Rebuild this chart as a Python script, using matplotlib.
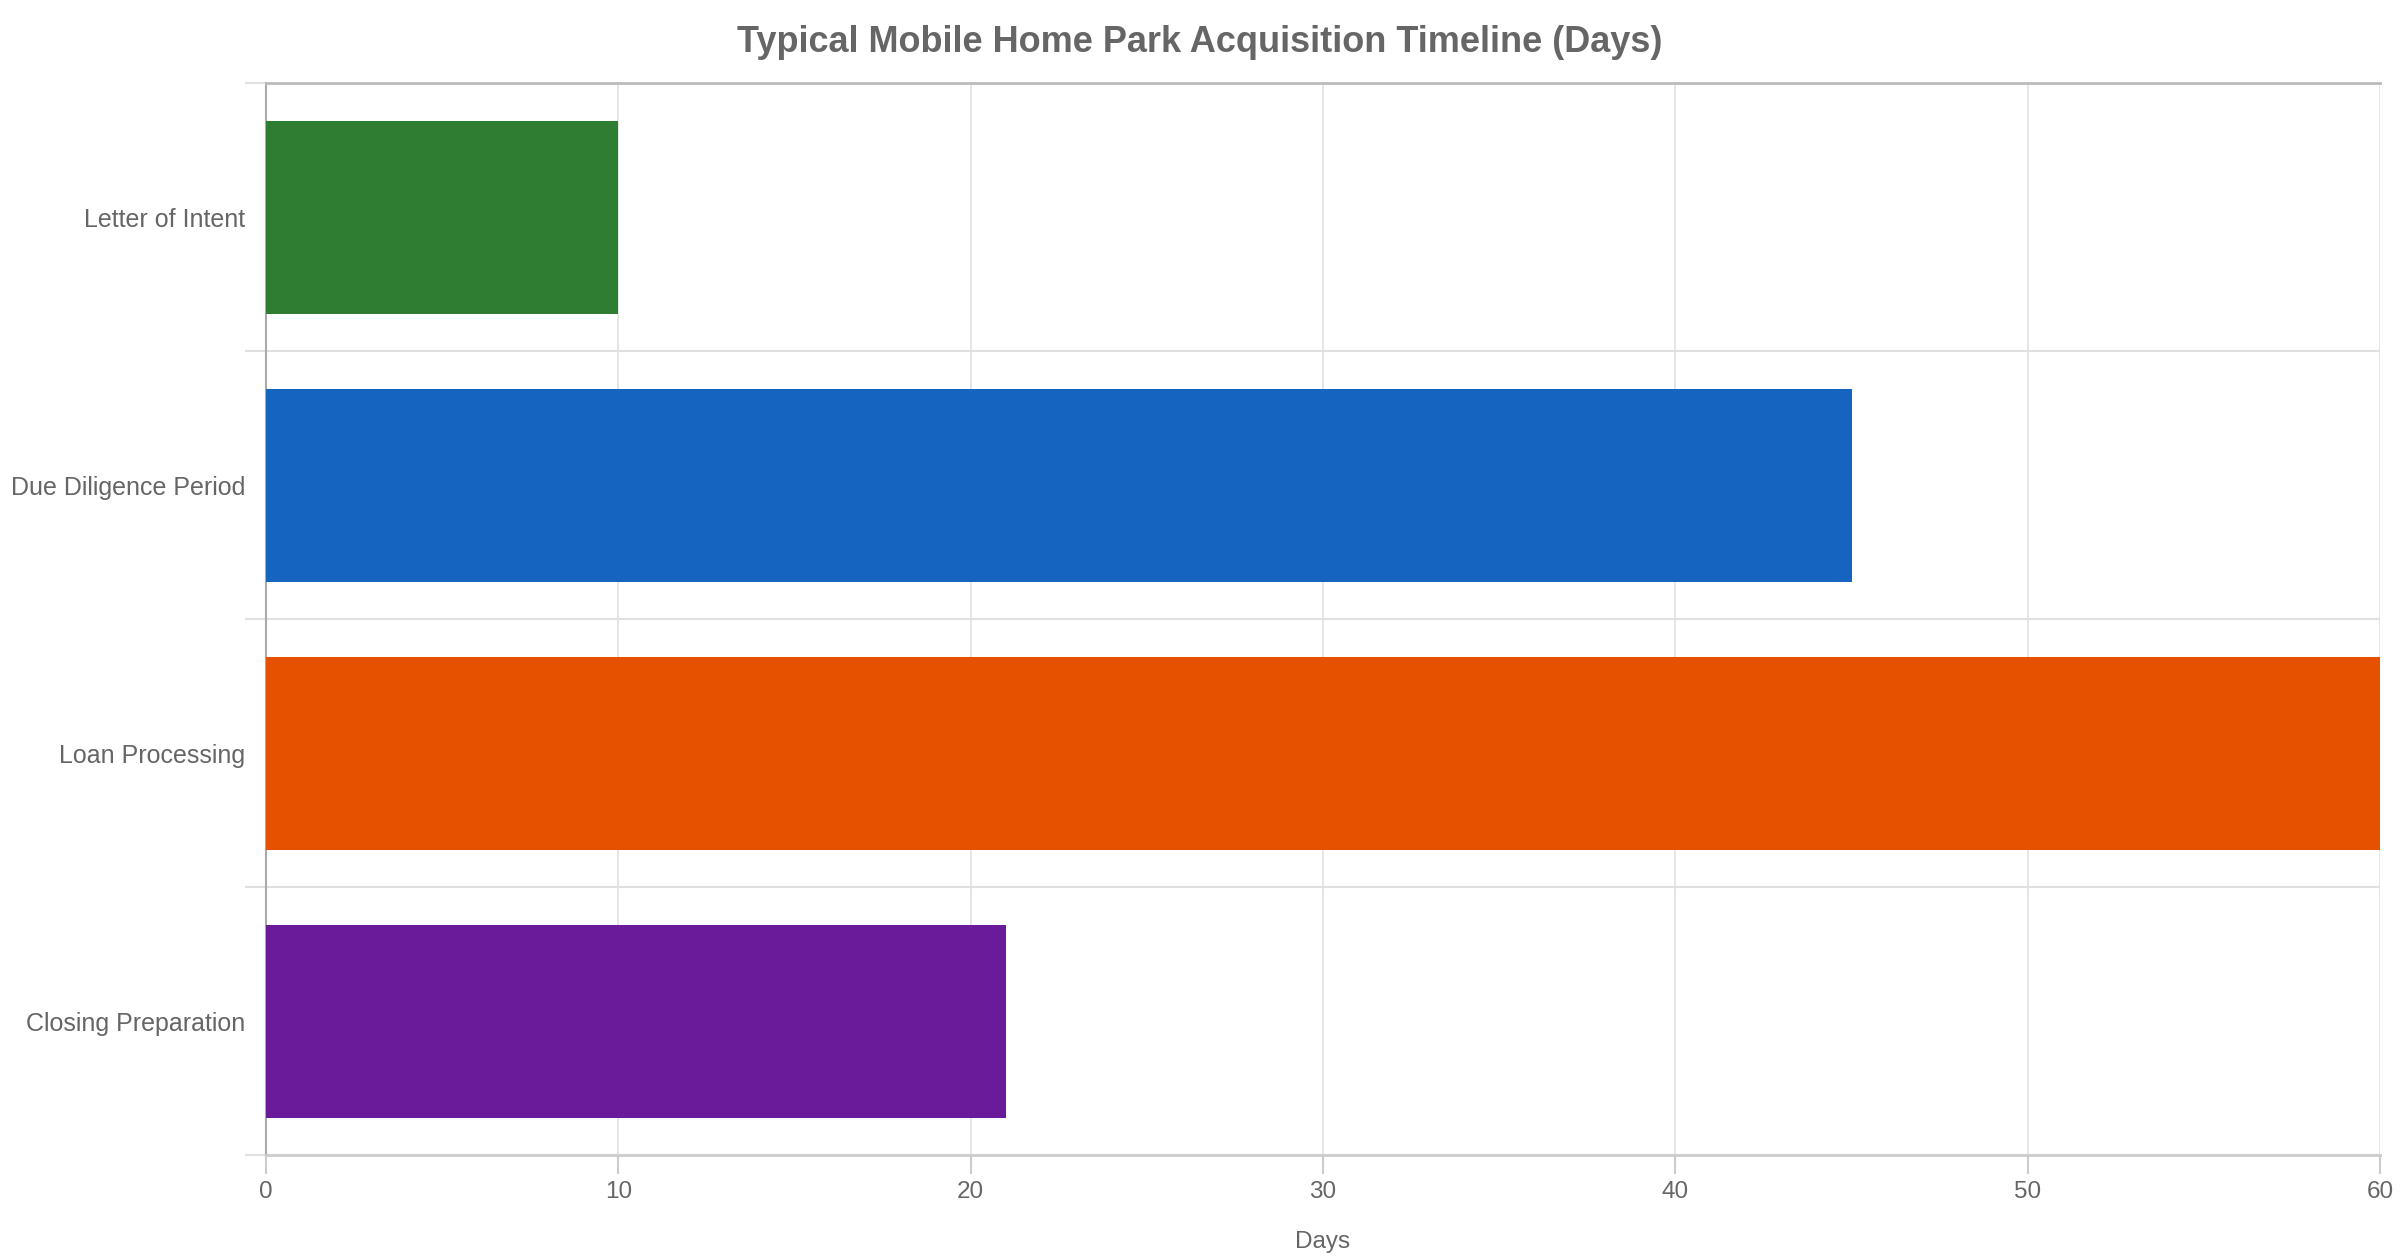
import matplotlib.pyplot as plt
import numpy as np

plt.rcParams['font.family'] = ['Liberation Sans', 'DejaVu Sans']

# DATA
stages = ['Letter of Intent', 'Due Diligence Period', 'Loan Processing', 'Closing Preparation']
days = [10, 45, 60, 21]
bar_colors = ['#2E7D32', '#1565C0', '#E65100', '#6A1B9A']
x_ticks = [0, 10, 20, 30, 40, 50, 60]

TEXT = '#666666'

fig = plt.figure(figsize=(24, 12.6), dpi=100)
ax = fig.add_axes([0.1108, 0.0833, 0.8809, 0.8508])

pos = np.arange(len(stages))
ax.barh(pos, days, height=0.72, color=bar_colors, zorder=3)

ax.set_xlim(0, 60)
ax.set_ylim(len(stages) - 0.5, -0.5)

# x axis
ax.set_xticks(x_ticks)
ax.set_xticklabels([str(t) for t in x_ticks])
ax.tick_params(axis='x', length=13.7, width=1.5, color='#cccccc', pad=5,
               labelsize=17.5, labelcolor=TEXT)
ax.grid(axis='x', color='#e0e0e0', linewidth=1.2, zorder=0)
ax.set_xlabel('Days', fontsize=17.5, color=TEXT, labelpad=20)

# y axis: labels at centres, ticks + grid at category boundaries
ax.set_yticks(pos)
ax.set_yticklabels(stages)
ax.tick_params(axis='y', which='major', length=0, pad=15, labelsize=18, labelcolor=TEXT)
ax.set_yticks(np.arange(len(stages) + 1) - 0.5, minor=True)
ax.tick_params(axis='y', which='minor', length=15, width=1.5, color='#e0e0e0')
ax.grid(axis='y', which='minor', color='#e0e0e0', linewidth=1.5, zorder=0)

ax.spines['left'].set_color('#aaaaaa')
ax.spines['left'].set_linewidth(1.5)
ax.spines['bottom'].set_color('#cccccc')
ax.spines['bottom'].set_linewidth(2)
ax.spines['top'].set_color('#bbbbbb')
ax.spines['top'].set_linewidth(2)
ax.spines['right'].set_visible(False)

fig.text(0.5, 0.966, 'Typical Mobile Home Park Acquisition Timeline (Days)',
         ha='center', va='center', fontsize=26, fontweight='bold', color=TEXT)

fig.savefig('out.png', dpi=100, facecolor='white')
